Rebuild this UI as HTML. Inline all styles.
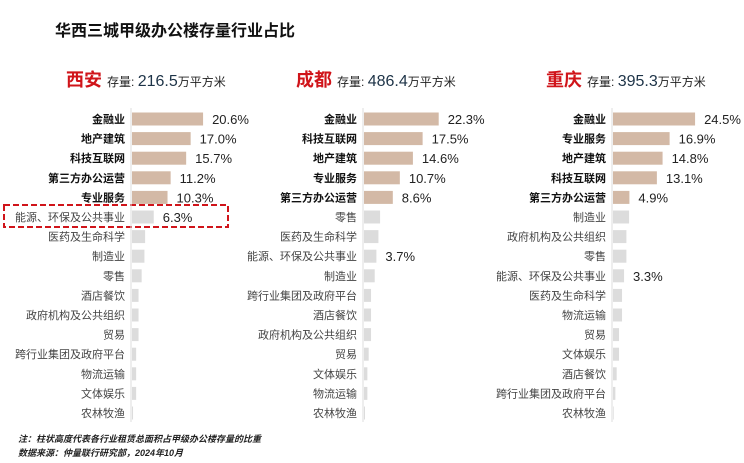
<!DOCTYPE html>
<html><head><meta charset="utf-8">
<style>
body{margin:0;background:#fff;}
svg{display:block;font-family:"Liberation Sans","Noto Sans CJK SC",sans-serif;}
</style></head>
<body>
<svg id="chart" width="744" height="463" viewBox="0 0 744 463">
<text x="55" y="36" font-size="16" font-weight="bold" fill="#111">华西三城甲级办公楼存量行业占比</text>
<rect x="4" y="205" width="224" height="22" fill="none" stroke="#d0141a" stroke-width="2" stroke-dasharray="6,3"/>
<text x="18" y="442" font-size="9" font-style="italic" font-weight="bold" fill="#222">注：柱状高度代表各行业租赁总面积占甲级办公楼存量的比重</text>
<text x="18" y="456" font-size="9" font-style="italic" font-weight="bold" fill="#222">数据来源：仲量联行研究部，2024年10月</text>
<g id="panels"></g>
</svg>
<script>
const xianCats=["金融业","地产建筑","科技互联网","第三方办公运营","专业服务","能源、环保及公共事业","医药及生命科学","制造业","零售","酒店餐饮","政府机构及公共组织","贸易","跨行业集团及政府平台","物流运输","文体娱乐","农林牧渔"];
const xianVals=[20.6,17.0,15.7,11.2,10.3,6.3,3.8,3.6,2.8,1.9,1.9,1.9,1.2,1.2,1.2,0.3];
const chengduCats=["金融业","科技互联网","地产建筑","专业服务","第三方办公运营","零售","医药及生命科学","能源、环保及公共事业","制造业","跨行业集团及政府平台","酒店餐饮","政府机构及公共组织","贸易","文体娱乐","物流运输","农林牧渔"];
const chengduVals=[22.3,17.5,14.6,10.7,8.6,4.8,4.3,3.7,3.2,2.1,2.1,2.1,1.4,1.0,1.0,0.3];
const chongqingCats=["金融业","专业服务","地产建筑","科技互联网","第三方办公运营","制造业","政府机构及公共组织","零售","能源、环保及公共事业","医药及生命科学","物流运输","贸易","文体娱乐","酒店餐饮","跨行业集团及政府平台","农林牧渔"];
const chongqingVals=[24.5,16.9,14.8,13.1,4.9,4.8,4.0,4.0,3.3,2.7,2.7,1.8,1.8,1.1,0.7,0.2];
const cityNames=["西安","成都","重庆"];
const stockVals=["216.5","486.4","395.3"];
const labelledIdx=[[0,1,2,3,4,5],[0,1,2,3,4,7],[0,1,2,3,4,8]];

const NS="http://www.w3.org/2000/svg";
const root=document.getElementById('panels');
function mk(tag,attrs,parent){const e=document.createElementNS(NS,tag);for(const k in attrs)e.setAttribute(k,attrs[k]);parent.appendChild(e);return e;}
const panels=[
 {cats:xianCats,vals:xianVals,axis:131,scale:3.45,titleX:66},
 {cats:chengduCats,vals:chengduVals,axis:363,scale:3.35,titleX:296},
 {cats:chongqingCats,vals:chongqingVals,axis:612,scale:3.35,titleX:546}
];
const y0=119,step=19.6,bh=13;
function yPos(i){return y0+i*step;}
panels.forEach((p,pi)=>{
  const g=mk('g',{},root);
  
  
  const t=mk('text',{x:p.titleX,y:86,'font-size':13,fill:'#222'},g);
  
  
  const s1=document.createElementNS(NS,'tspan');s1.setAttribute('font-size','18');s1.setAttribute('font-weight','bold');s1.setAttribute('fill','#d0141a');s1.textContent=cityNames[pi]+' ';t.appendChild(s1);
  const s2=document.createElementNS(NS,'tspan');s2.setAttribute('font-size','12');s2.textContent='存量: ';t.appendChild(s2);
  const s3=document.createElementNS(NS,'tspan');s3.setAttribute('font-size','16');s3.setAttribute('fill','#1d3347');s3.textContent=stockVals[pi];t.appendChild(s3);
  const s4=document.createElementNS(NS,'tspan');s4.setAttribute('font-size','12');s4.textContent='万平方米';t.appendChild(s4);
  const ax=mk('line',{x1:p.axis,x2:p.axis,y1:108,y2:yPos(p.cats.length-1)+9,stroke:'#ddd','stroke-width':1},g);
  
  
  p.cats.forEach((c,i)=>{
    const y=yPos(i);
    const top=i<5;
    const lb=mk('text',{x:p.axis-6,y:y+4,'font-size':11,'text-anchor':'end',fill:top?'#111':'#444','font-weight':top?'bold':'normal'},g);
    
    
    lb.textContent=c;
    const w=p.vals[i]*p.scale;
    const r=mk('rect',{x:p.axis+1,y:y-bh/2,width:w,height:bh,fill:top?'#d3b9a6':'#dcdcdc'},g);
    
    
    if(labelledIdx[pi].includes(i)){
      const v=mk('text',{x:p.axis+1+w+9,y:y+5,'font-size':13,fill:'#222'},g);
      
      
      v.textContent=p.vals[i].toFixed(1)+'%';
    }
  });
});
</script>
</body></html>
